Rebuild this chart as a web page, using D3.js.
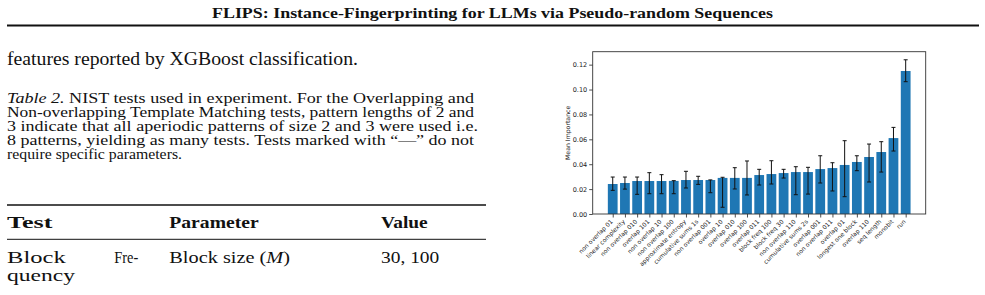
<!DOCTYPE html>
<html>
<head>
<meta charset="utf-8">
<script src="https://cdn.jsdelivr.net/npm/d3@7"></script>
<style>
  body { margin: 0; background: #fff; }
  svg { display: block; }
  .chart text { font-family: "DejaVu Sans", sans-serif; fill: #222; }
</style>
</head>
<body>
<svg id="page" width="985" height="295"></svg>
<script>
// Feature names (sorted by mean importance)
var features = ["non overlap 01", "linear complexity", "non overlap 010", "overlap 101",
  "non overlap 10", "non overlap 100", "approximate entropy", "cumulative sums 1s",
  "non overlap 001", "overlap 10", "overlap 010", "overlap 100", "overlap 011",
  "block freq 100", "block freq 30", "non overlap 110", "cumulative sums 2s",
  "overlap 001", "non overlap 011", "overlap 01", "longest one block", "overlap 110",
  "seq length", "monobit", "run"];

// Mean importance per feature
var meanImportance = [0.0241, 0.0249, 0.0265, 0.0265, 0.0265, 0.0266, 0.0273, 0.0273,
  0.0273, 0.0290, 0.0290, 0.0290, 0.0313, 0.0321, 0.0329, 0.0337, 0.0337, 0.0361,
  0.0369, 0.0394, 0.0418, 0.0458, 0.0498, 0.0610, 0.1149];

// Error bar ends (lower / upper)
var errLow = [0.0190, 0.0200, 0.0158, 0.0163, 0.0163, 0.0163, 0.0209, 0.0238, 0.0171,
  0.0054, 0.0201, 0.0153, 0.0233, 0.0241, 0.0289, 0.0155, 0.0160, 0.0249, 0.0185,
  0.0139, 0.0348, 0.0257, 0.0337, 0.0506, 0.1063];
var errHigh = [0.0297, 0.0297, 0.0297, 0.0332, 0.0316, 0.0268, 0.0343, 0.0303, 0.0274,
  0.0295, 0.0372, 0.0426, 0.0359, 0.0428, 0.0359, 0.0380, 0.0375, 0.0468, 0.0412,
  0.0589, 0.0468, 0.0562, 0.0581, 0.0696, 0.1239];

var yTicks = [0, 0.02, 0.04, 0.06, 0.08, 0.10, 0.12];

var svg = d3.select("#page");
var serif = "Liberation Serif";

// ---- page text around the figure ----
function textLine(x, y, size, parts, len, weight) {
    var t = svg.append("text")
        .attr("x", x)
        .attr("y", y)
        .attr("font-family", serif)
        .attr("fill", "#111")
        .attr("font-size", size)
        .attr("font-weight", weight || "normal");
    parts.forEach(function(p) {
        t.append("tspan")
            .attr("font-style", p.italic ? "italic" : "normal")
            .text(p.t);
    });
    if (len) t.attr("textLength", len).attr("lengthAdjust", "spacingAndGlyphs");
    return t;
}

textLine(212, 17.5, 15, [{t: "FLIPS: Instance-Fingerprinting for LLMs via Pseudo-random Sequences"}], 561, "bold");
svg.append("line").attr("x1", 7).attr("x2", 979).attr("y1", 25.5).attr("y2", 25.5)
    .attr("stroke", "#111").attr("stroke-width", 2);

textLine(7, 65.3, 18, [{t: "features reported by XGBoost classification."}], 351);

var capY = [103.3, 117.3, 131, 145, 159];
var capSize = 15;
textLine(7, capY[0], capSize, [{t: "Table 2.", italic: true}, {t: " NIST tests used in experiment. For the Overlapping and"}], 467);
textLine(7, capY[1], capSize, [{t: "Non-overlapping Template Matching tests, pattern lengths of 2 and"}], 467);
textLine(7, capY[2], capSize, [{t: "3 indicate that all aperiodic patterns of size 2 and 3 were used i.e."}], 471);
textLine(7, capY[3], capSize, [{t: "8 patterns, yielding as many tests. Tests marked with \u201c\u2014\u201d do not"}], 467);
textLine(7, capY[4], capSize, [{t: "require specific parameters."}], 175);

// table
var tSize = 17.5;
svg.append("line").attr("x1", 7).attr("x2", 486).attr("y1", 205).attr("y2", 205)
    .attr("stroke", "#111").attr("stroke-width", 1.7);
svg.append("line").attr("x1", 7).attr("x2", 486).attr("y1", 239.3).attr("y2", 239.3)
    .attr("stroke", "#111").attr("stroke-width", 1);
textLine(7, 228.3, tSize, [{t: "Test"}], 45.5, "bold");
textLine(169.3, 228.3, tSize, [{t: "Parameter"}], 89.4, "bold");
textLine(381, 228.3, tSize, [{t: "Value"}], 46.7, "bold");
textLine(7, 263.3, tSize, [{t: "Block"}], 58.7);
textLine(114.3, 263.3, tSize, [{t: "Fre-"}], 24);
textLine(169.3, 263.3, tSize, [{t: "Block size ("}, {t: "M", italic: true}, {t: ")"}], 120.7);
textLine(381, 263.3, tSize, [{t: "30, 100"}], 58.3);
textLine(7, 280.7, tSize, [{t: "quency"}], 68);

// ---- bar chart ----
var plot = { left: 592.7, right: 925.7, top: 51.7, bottom: 214 };
var n = features.length;

var x = d3.scaleLinear()
    .domain([-0.4 - 0.05 * (n - 0.2), n - 0.6 + 0.05 * (n - 0.2)])
    .range([plot.left, plot.right]);
var y = d3.scaleLinear()
    .domain([0, d3.max(errHigh) * 1.0525])
    .range([plot.bottom, plot.top]);

var chart = svg.append("g").attr("class", "chart");

chart.selectAll(".bar")
    .data(meanImportance)
    .enter().append("rect")
    .attr("class", "bar")
    .attr("x", function(d, i) { return x(i - 0.4); })
    .attr("width", x(0.8) - x(0))
    .attr("y", function(d) { return y(d); })
    .attr("height", function(d) { return y(0) - y(d); })
    .attr("fill", "#1f77b4");

// error bars with caps
var err = chart.selectAll(".err")
    .data(features)
    .enter().append("g")
    .attr("class", "err")
    .attr("stroke", "#111")
    .attr("stroke-width", 1);
err.append("line")
    .attr("x1", function(d, i) { return x(i); })
    .attr("x2", function(d, i) { return x(i); })
    .attr("y1", function(d, i) { return y(errLow[i]); })
    .attr("y2", function(d, i) { return y(errHigh[i]); });
err.append("line")
    .attr("x1", function(d, i) { return x(i) - 2; })
    .attr("x2", function(d, i) { return x(i) + 2; })
    .attr("y1", function(d, i) { return y(errLow[i]); })
    .attr("y2", function(d, i) { return y(errLow[i]); });
err.append("line")
    .attr("x1", function(d, i) { return x(i) - 2; })
    .attr("x2", function(d, i) { return x(i) + 2; })
    .attr("y1", function(d, i) { return y(errHigh[i]); })
    .attr("y2", function(d, i) { return y(errHigh[i]); });

// axes
var yAxis = d3.axisLeft(y)
    .tickValues(yTicks)
    .tickFormat(d3.format(".2f"))
    .tickSize(3.5)
    .tickPadding(2);
var gy = chart.append("g")
    .attr("transform", "translate(" + plot.left + ",0)")
    .call(yAxis);
gy.select(".domain").remove();
gy.selectAll("text").attr("font-size", 6.5).attr("fill", "#222");
gy.selectAll("line").attr("stroke", "#222").attr("stroke-width", 0.8);

var xAxis = d3.axisBottom(x)
    .tickValues(d3.range(n))
    .tickFormat(function(i) { return features[i]; })
    .tickSize(3.5)
    .tickPadding(2);
var gx = chart.append("g")
    .attr("transform", "translate(0," + plot.bottom + ")")
    .call(xAxis);
gx.select(".domain").remove();
gx.selectAll("line").attr("stroke", "#222").attr("stroke-width", 0.8);
gx.selectAll("text")
    .attr("font-size", 6)
    .attr("fill", "#222")
    .attr("text-anchor", "end")
    .attr("dy", null)
    .attr("y", 0)
    .attr("transform", "translate(0,8) rotate(-45)");

// frame
chart.append("rect")
    .attr("x", plot.left).attr("y", plot.top)
    .attr("width", plot.right - plot.left).attr("height", plot.bottom - plot.top)
    .attr("fill", "none").attr("stroke", "#333").attr("stroke-width", 0.9);

chart.append("text")
    .attr("transform", "translate(570," + ((plot.top + plot.bottom) / 2) + ") rotate(-90)")
    .attr("text-anchor", "middle")
    .attr("font-size", 6.2)
    .text("Mean Importance");
</script>
</body>
</html>
